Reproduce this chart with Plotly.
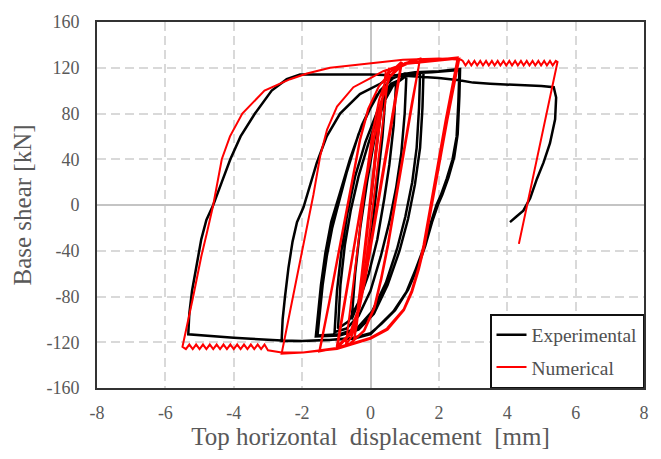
import plotly.graph_objects as go

# ---------------- Experimental (black) ----------------
exp_c1_x = [0, 0.15, 0.3, 0.45, 0.35, 0.2, 0.05, -0.15, -0.35, -0.55, -0.45, -0.3, -0.1, 0.1, 0.3, 0.5, 0.6, 0.75]
exp_c1_y = [0, 45, 80, 100, 60, 20, -20, -55, -85, -100, -60, -20, 20, 55, 85, 102, 106, 108]

exp_c2_x = [0.68, 0.55, 0.4, 0.2, -0.05, -0.35, -0.65, -0.95, -0.88, -0.75, -0.58, -0.35, -0.05, 0.3, 0.65, 1.05]
exp_c2_y = [70, 35, 5, -30, -60, -85, -102, -108, -70, -35, -5, 25, 55, 85, 104, 113]

exp_c3_x = [1.0, 0.9, 0.75, 0.55, 0.3, 0.0, -0.35, -0.7, -1.05, -0.98, -0.85, -0.68, -0.45, -0.15, 0.2, 0.55, 0.95, 1.45]
exp_c3_y = [80, 45, 15, -15, -45, -75, -97, -108, -111, -75, -40, -8, 25, 55, 82, 102, 112, 115]

exp_c4_x = [1.42, 1.35, 1.22, 1.02, 0.78, 0.45, 0.05, -0.4, -0.9, -1.55, -1.5, -1.4, -1.28, -1.12, -0.99, -0.7, -0.35, 0.0, 0.28, 0.7, 1.1, 1.55]
exp_c4_y = [85, 50, 20, -10, -38, -68, -93, -108, -113, -114, -100, -70, -45, -20, -5, 28, 62, 85, 100, 112, 115, 116]

exp_c5_x = [1.52, 1.45, 1.3, 1.1, 0.85, 0.5, 0.1, -0.35, -0.9, -1.6, -1.55, -1.45, -1.32, -1.15, -0.9, -0.6, -0.25, 0.15, 0.6, 1.0, 1.8, 2.6]
exp_c5_y = [85, 50, 18, -12, -40, -70, -95, -109, -114, -115, -100, -70, -42, -15, 10, 40, 70, 95, 110, 115, 116, 118]

exp_c6_x = [2.57, 2.52, 2.4, 2.23, 2.05, 1.93, 1.75, 1.55, 1.3, 1.05, 0.67, 0.28, 0.0, -0.5, -1.2, -2.0, -2.6,
            -2.57, -2.5, -2.4, -2.28, -2.15, -1.96, -1.75, -1.57, -1.28, -0.89, -0.31, 0.28, 0.66, 1.3, 2.0, 2.62]
exp_c6_y = [90, 60, 40, 23, 8, 0, -17, -38, -58, -76, -93, -105, -113, -117, -118, -119, -119,
            -100, -80, -55, -32, -15, -2, 18, 37, 60, 80, 97, 106, 113, 116, 117, 119]

exp_c7_x = [2.6, 2.55, 2.45, 2.28, 2.1, 1.97, 1.8, 1.6, 1.36, 1.1, 0.72, 0.32, 0.0, -0.5, -1.2, -2.0, -2.6,
            -3.0, -3.5, -4.0, -4.5, -5.0, -5.33]
exp_c7_y = [95, 62, 42, 24, 9, 0, -15, -36, -56, -74, -92, -104, -112, -116, -118, -119, -118.5,
            -118, -117, -116, -115, -114, -113]

exp_big_x = [-5.3, -5.22, -5.1, -4.95, -4.8, -4.6, -4.35, -4.1, -3.8, -3.38, -2.89, -2.45, -2.06, -1.0, 0.0, 1.0, 2.0,
             2.6, 3.0, 3.5, 4.5, 5.0, 5.36]
exp_big_y = [-95, -75, -55, -30, -13, 0, 20, 40, 60, 80, 100, 110, 114, 114, 114, 113, 111,
             109, 107, 106, 105, 104, 103]

exp_end_x = [5.43, 5.4, 5.25, 5.06, 4.87, 4.67, 4.47, 4.27, 4.08]
exp_end_y = [94, 75, 54, 37, 23, 6, -5, -10, -15]

# ---------------- Numerical (red) ----------------
num_c1_x = [0, 0.2, 0.35, 0.45, 0.3, 0.15, 0.0, -0.15, -0.3, -0.4, -0.48, -0.35, -0.2, -0.05, 0.1, 0.25, 0.4, 0.55]
num_c1_y = [0, 55, 95, 118, 80, 40, 0, -40, -80, -105, -118, -85, -45, -5, 35, 75, 105, 120]

num_c2_x = [0.4, 0.25, 0.1, -0.05, -0.2, -0.38, -0.55, -0.72, -0.55, -0.4, -0.25, -0.1, 0.05, 0.25, 0.5, 0.9]
num_c2_y = [82, 44, 6, -32, -68, -98, -115, -122, -80, -42, -5, 30, 62, 92, 114, 125]

num_c3_x = [0.7, 0.5, 0.3, 0.15, 0.0, -0.15, -0.35, -0.6, -0.99, -0.8, -0.6, -0.4, -0.25, -0.1, 0.1, 0.3, 0.55, 0.92]
num_c3_y = [90, 55, 20, -5, -30, -60, -90, -112, -124, -90, -55, -20, 5, 30, 60, 90, 112, 125]

num_c4_x = [0.72, 0.52, 0.32, 0.17, 0.02, -0.13, -0.33, -0.58, -0.97, -0.78, -0.58, -0.38, -0.23, -0.08, 0.12, 0.32, 0.57, 1.0, 1.45]
num_c4_y = [88, 53, 18, -7, -32, -62, -92, -113, -125, -90, -55, -20, 5, 30, 60, 90, 112, 124, 128]

num_c5_x = [1.2, 0.95, 0.68, 0.5, 0.3, 0.1, -0.2, -0.6, -1.0, -1.48,
            -1.2, -0.95, -0.69, -0.5, -0.3, -0.05, 0.25, 0.6, 1.0, 1.45]
num_c5_y = [88, 45, -5, -35, -65, -90, -110, -121, -125, -127,
            -85, -45, -3, 27, 57, 85, 104, 117, 124, 128]

num_c6_x = [1.22, 0.97, 0.7, 0.52, 0.32, 0.12, -0.18, -0.58, -0.98, -1.5,
            -1.22, -0.97, -0.71, -0.52, -0.32, -0.07, 0.23, 0.6, 1.2, 1.9, 2.55]
num_c6_y = [88, 45, -5, -35, -65, -90, -110, -121, -125, -128,
            -86, -46, -4, 26, 56, 84, 103, 117, 125, 127, 129]

num_c7_x = [2.2, 1.84, 1.7, 1.55, 1.4, 1.2, 0.97, 0.48, 0.0, -0.98, -1.97, -2.6,
            -2.3, -2.0, -1.67, -1.47, -1.27, -0.98, -0.5, 0.0, 0.37, 0.95, 1.94, 2.6]
num_c7_y = [75, 15, -10, -35, -55, -75, -91, -108, -116, -125, -129, -130,
            -85, -40, 9, 43, 66, 86, 103, 111, 117, 123, 126, 128]

num_c8_x = [2.25, 1.88, 1.74, 1.58, 1.42, 1.22, 0.98, 0.5, 0.0, -0.98, -1.97, -2.6, -3.0,
            -3.1, -3.2, -3.3, -3.4, -3.5, -3.6, -3.7, -3.8, -3.9, -4.0, -4.1, -4.2, -4.3,
            -4.4, -4.5, -4.6, -4.7, -4.8, -4.9, -5.0, -5.1, -5.2, -5.3, -5.4, -5.5]
num_c8_y = [74, 14, -11, -36, -56, -76, -92, -109, -117, -126, -129, -129, -127,
            -122, -126, -122, -126, -122, -126, -122, -126, -122, -126, -122, -126, -122,
            -126, -122, -126, -122, -126, -122, -126, -122, -126, -122, -126, -124]

num_big_x = [-5.2, -4.95, -4.79, -4.6, -4.35, -4.11, -3.75, -3.1, -2.35, -1.86, -1.18, 0.0, 0.95, 2.0, 2.65,
             2.7, 2.78, 2.87, 2.95, 3.04, 3.12, 3.21, 3.29, 3.38, 3.46, 3.55, 3.63, 3.72, 3.8, 3.89, 3.97,
             4.06, 4.14, 4.23, 4.31, 4.4, 4.48, 4.57, 4.65, 4.74, 4.82, 4.91, 4.99, 5.08, 5.16, 5.25, 5.33,
             5.42, 5.47]
num_big_y = [-82, -45, -25, 0, 40, 60, 80, 100, 110, 115, 120, 124, 127, 128, 127,
             126, 122, 126, 122, 126, 122, 126, 122, 126, 122, 126, 122, 126, 122, 126, 122,
             126, 122, 126, 122, 126, 122, 126, 122, 126, 122, 126, 122, 126, 122, 126, 122,
             126, 125]

num_end_x = [4.34]
num_end_y = [-34]

exp_x = exp_c1_x + exp_c2_x + exp_c3_x + exp_c4_x + exp_c5_x + exp_c6_x + exp_c7_x + exp_big_x + exp_end_x
exp_y = exp_c1_y + exp_c2_y + exp_c3_y + exp_c4_y + exp_c5_y + exp_c6_y + exp_c7_y + exp_big_y + exp_end_y
num_x = num_c1_x + num_c2_x + num_c3_x + num_c4_x + num_c5_x + num_c6_x + num_c7_x + num_c8_x + num_big_x + num_end_x
num_y = num_c1_y + num_c2_y + num_c3_y + num_c4_y + num_c5_y + num_c6_y + num_c7_y + num_c8_y + num_big_y + num_end_y

x_ticks = [-8, -6, -4, -2, 0, 2, 4, 6, 8]
y_ticks = [-160, -120, -80, -40, 0, 40, 80, 120, 160]

FONT = "Liberation Serif, Times New Roman, serif"

fig = go.Figure()
fig.add_trace(go.Scatter(x=exp_x, y=exp_y, mode="lines", name="Experimental",
                         line=dict(color="black", width=2.5), legendgroup="e"))
fig.add_trace(go.Scatter(x=num_x, y=num_y, mode="lines", name="Numerical",
                         line=dict(color="#ff0000", width=2), legendgroup="n"))

axis_common = dict(
    showgrid=True, gridcolor="#d9d9d9", gridwidth=2, griddash="9px,5px",
    zeroline=True, zerolinecolor="#c4c4c4", zerolinewidth=1.5,
    showline=True, linecolor="#333333", linewidth=2, mirror=True,
    ticks="", tickfont=dict(family=FONT, size=18, color="#595959"),
)

fig.update_xaxes(range=[-8, 8], tickvals=x_ticks, ticktext=[str(v) for v in x_ticks],
                 title=dict(text="Top horizontal  displacement  [mm]",
                            font=dict(family=FONT, size=25, color="#595959"), standoff=6),
                 ticklabelstandoff=7, **axis_common)
fig.update_yaxes(range=[-160, 160], tickvals=y_ticks, ticktext=[str(v) for v in y_ticks],
                 title=dict(text="Base shear [kN]",
                            font=dict(family=FONT, size=25, color="#595959"), standoff=8),
                 ticklabelstandoff=12, **axis_common)

fig.update_layout(
    width=661, height=459,
    margin=dict(l=97, r=17, t=13, b=71),
    paper_bgcolor="white", plot_bgcolor="white",
    showlegend=True,
    legend=dict(x=1, xanchor="right", y=0, yanchor="bottom",
                bgcolor="white", bordercolor="#111111", borderwidth=1.5,
                font=dict(family=FONT, size=19.5, color="#505050"),
                tracegroupgap=4, itemwidth=30),
)

fig.write_html("out.html")
